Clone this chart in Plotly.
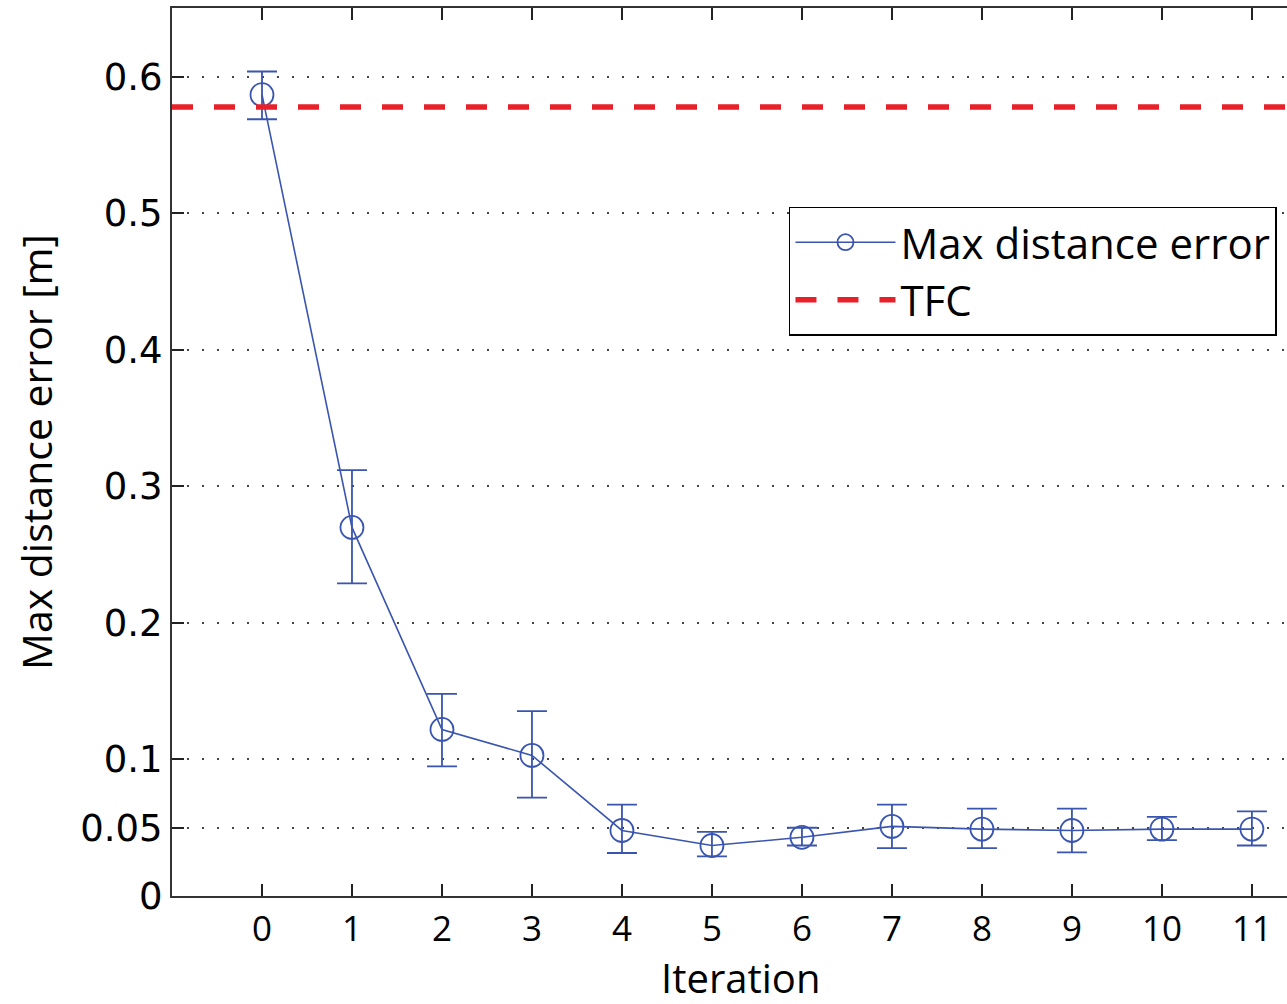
import plotly.graph_objects as go

# ---- data ----
iterations = [0, 1, 2, 3, 4, 5, 6, 7, 8, 9, 10, 11]
max_err = [0.587, 0.270, 0.122, 0.103, 0.048, 0.037, 0.043, 0.051, 0.049, 0.048, 0.049, 0.049]
err_upper = [0.604, 0.312, 0.148, 0.1355, 0.067, 0.047, 0.050, 0.067, 0.064, 0.064, 0.058, 0.062]
err_lower = [0.569, 0.229, 0.095, 0.072, 0.0315, 0.029, 0.037, 0.035, 0.035, 0.032, 0.041, 0.037]
tfc_value = 0.578
y_ticks = [0, 0.05, 0.1, 0.2, 0.3, 0.4, 0.5, 0.6]
y_tick_labels = ["0", "0.05", "0.1", "0.2", "0.3", "0.4", "0.5", "0.6"]
x_range = [-1, 11.39]
y_range = [0, 0.6505]

plus = [u - m for u, m in zip(err_upper, max_err)]
minus = [m - l for m, l in zip(max_err, err_lower)]

blue = "#3a55b0"
red = "#e8202a"

fig = go.Figure()
fig.add_trace(go.Scatter(
    x=iterations, y=max_err, mode="lines+markers", name="Max distance error",
    line=dict(color=blue, width=1.6),
    marker=dict(symbol="circle-open", size=23, color=blue, line=dict(width=1.8, color=blue)),
    error_y=dict(type="data", symmetric=False, array=plus, arrayminus=minus,
                 color=blue, thickness=1.8, width=15),
))
fig.add_trace(go.Scatter(
    x=[x_range[0], 12], y=[tfc_value, tfc_value], mode="lines", name="TFC",
    line=dict(color=red, width=5.5, dash="21px,21px"),
))

tickfont = dict(family="Open Sans", size=35, color="black")
fig.update_layout(
    width=1287, height=1004,
    margin=dict(l=172, r=0, t=8, b=108),
    plot_bgcolor="white", paper_bgcolor="white",
    showlegend=True,
    legend=dict(x=0.991, y=0.776, xanchor="right", yanchor="top",
                bgcolor="white", bordercolor="black", borderwidth=1.5,
                font=dict(family="Open Sans", size=42, color="black"),
                itemwidth=100, tracegroupgap=0),
)
fig.update_xaxes(
    range=x_range, tickvals=iterations, ticks="inside", ticklen=12, tickwidth=1.5,
    tickcolor="#222", showline=True, linecolor="#333", linewidth=2, mirror="ticks",
    showgrid=False, zeroline=False, tickfont=tickfont, ticklabelstandoff=1,
)
fig.update_yaxes(
    range=y_range, tickvals=y_ticks, ticktext=y_tick_labels, ticks="inside", ticklen=12,
    tickwidth=1.5, tickcolor="#222", showline=True, linecolor="#333", linewidth=2,
    showgrid=True, gridcolor="#444", griddash="2px,13px", gridwidth=1.5, zeroline=False,
    tickfont=dict(family="DejaVu Sans", size=37, color="black"),
)
fig.add_annotation(
    text="Max distance error [m]", textangle=-90, xref="paper", yref="paper",
    x=0, y=0.5, xshift=-136, xanchor="center", yanchor="middle", showarrow=False,
    font=dict(family="Open Sans", size=41, color="black"),
)
fig.add_annotation(
    text="Iteration", xref="paper", yref="paper", x=(740 - 172) / (1287 - 172), y=0,
    yshift=-81, xanchor="center", yanchor="middle", showarrow=False,
    font=dict(family="Open Sans", size=40, color="black"),
)
fig.write_html("out.html", config={"displayModeBar": False},
               post_script="document.body.style.margin='0';document.body.style.overflow='hidden';")
